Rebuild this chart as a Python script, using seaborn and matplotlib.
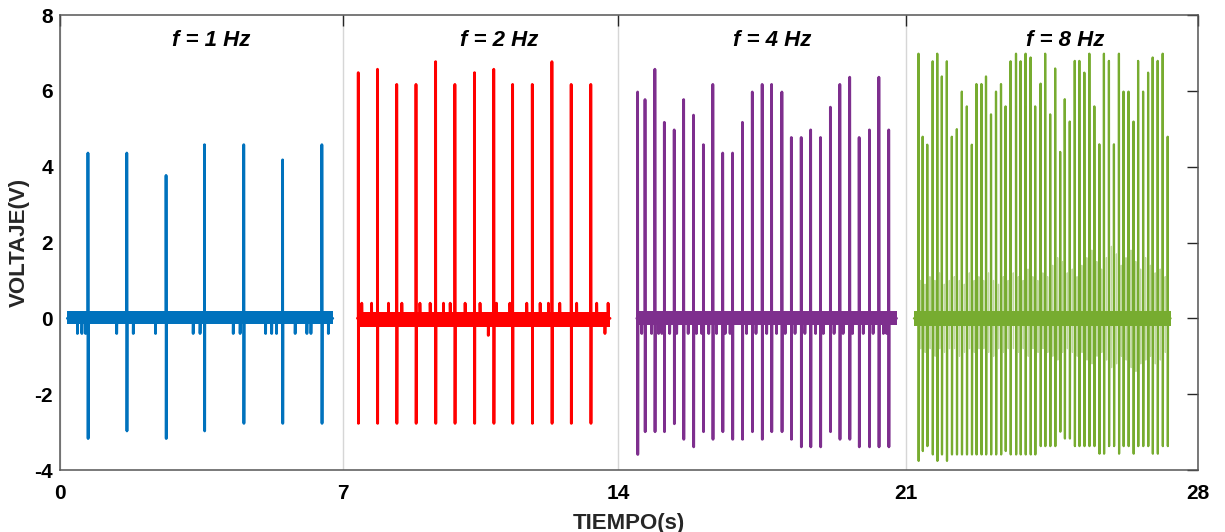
import numpy as np
import pandas as pd
import matplotlib
matplotlib.use("Agg")
import matplotlib.pyplot as plt
import seaborn as sns

# ---------------- data ----------------
segments = ["f = 1 Hz", "f = 2 Hz", "f = 4 Hz", "f = 8 Hz"]
colors = ["#0072BD", "#FF0000", "#7E2F8E", "#77AC30"]

band_start = [0.18, 7.36, 14.45, 21.19]
band_end = [6.74, 13.79, 20.77, 27.35]
band_low = [-0.16, -0.22, -0.18, -0.20]
band_high = [0.20, 0.18, 0.20, 0.20]

blue_t = [0.69, 1.65, 2.62, 3.57, 4.54, 5.50, 6.47]
blue_hi = [4.36, 4.36, 3.77, 4.58, 4.58, 4.18, 4.58]
blue_lo = [-3.17, -2.97, -3.17, -2.97, -2.77, -2.77, -2.77]
blue_minor_t = [0.43, 0.54, 0.63, 1.40, 1.81, 2.36, 3.29, 3.46, 4.28, 4.45,
                5.08, 5.23, 5.35, 5.81, 6.10, 6.20, 6.63]
blue_minor_v = [-0.40] * 17

red_t = [7.38, 7.87, 8.36, 8.85, 9.35, 9.84, 10.34, 10.83, 11.31, 11.81,
         12.31, 12.80, 13.30]
red_hi = [6.48, 6.57, 6.17, 6.17, 6.77, 6.17, 6.48, 6.57, 6.17, 6.17,
          6.77, 6.17, 6.17]
red_lo = [-2.77] * 13
red_minor_t = [7.47, 7.72, 8.15, 8.49, 8.95, 9.21, 9.55, 9.72, 10.10, 10.48,
               10.69, 10.90, 11.24, 11.67, 12.01, 12.22, 12.51, 12.94, 13.45,
               13.66, 13.74]
red_minor_v = [0.40, 0.40, 0.40, 0.40, 0.40, 0.40, 0.40, 0.40, 0.40, 0.40,
               -0.45, 0.40, 0.40, 0.40, 0.40, 0.40, 0.40, 0.40, 0.40,
               -0.40, 0.40]

purple_t = [14.47, 14.65, 14.89, 15.12, 15.36, 15.59, 15.83, 16.07, 16.30,
            16.54, 16.78, 17.02, 17.26, 17.50, 17.73, 17.98, 18.21, 18.45,
            18.68, 18.92, 19.16, 19.39, 19.63, 19.86, 20.11, 20.34, 20.58]
purple_hi = [5.97, 5.77, 6.57, 5.17, 4.97, 5.77, 5.36, 4.58, 6.17, 4.36,
             4.36, 5.17, 5.97, 6.17, 6.17, 5.97, 4.77, 4.77, 4.97, 4.77,
             5.57, 6.17, 6.36, 4.77, 4.97, 6.36, 4.97]
purple_lo = [-3.59, -2.99, -2.99, -2.99, -2.78, -3.19, -3.39, -2.99, -3.19,
             -2.99, -3.19, -3.19, -2.99, -3.19, -2.99, -2.99, -3.19, -3.39,
             -3.39, -3.39, -2.99, -3.19, -3.19, -3.39, -3.39, -3.39, -3.39]
purple_minor_t = [14.57, 14.81, 14.98, 15.06, 15.25, 15.42, 15.70, 15.90,
                  16.03, 16.20, 16.39, 16.60, 16.72, 17.12, 17.35, 17.61,
                  17.85, 18.06, 18.30, 18.54, 18.80, 18.99, 19.25, 19.47,
                  19.70, 19.96, 20.20, 20.45, 20.53]
purple_minor_v = [-0.40] * 29

green_t = [21.30, 21.40, 21.51, 21.64, 21.75, 21.86, 21.98, 22.10, 22.22,
           22.34, 22.46, 22.58, 22.69, 22.81, 22.92, 23.04, 23.16, 23.28,
           23.39, 23.51, 23.64, 23.75, 23.87, 23.99, 24.10, 24.23, 24.34,
           24.46, 24.58, 24.70, 24.81, 24.93, 25.05, 25.16, 25.28, 25.40,
           25.52, 25.64, 25.75, 25.87, 25.99, 26.11, 26.22, 26.34, 26.46,
           26.57, 26.69, 26.81, 26.92, 27.04, 27.16, 27.28]
green_hi = [6.98, 4.79, 4.58, 6.78, 6.98, 6.38, 6.78, 4.79, 4.99, 5.98,
            5.59, 4.58, 6.18, 6.18, 6.38, 5.38, 5.98, 6.18, 5.59, 6.78,
            6.98, 6.78, 6.98, 6.88, 5.59, 6.19, 6.98, 5.38, 6.59, 4.39,
            5.78, 5.19, 6.79, 6.79, 6.48, 6.98, 5.59, 4.59, 6.98, 6.79,
            4.59, 6.98, 5.98, 5.98, 5.19, 6.79, 5.98, 6.48, 6.88, 6.79,
            6.98, 4.79]
green_lo = [-3.76, -3.50, -3.37, -3.59, -3.76, -3.59, -3.76, -3.59, -3.59,
            -3.59, -3.59, -3.59, -3.59, -3.59, -3.59, -3.59, -3.59, -3.59,
            -3.50, -3.59, -3.59, -3.59, -3.59, -3.59, -3.59, -3.37, -3.37,
            -3.37, -3.37, -2.99, -3.17, -3.17, -3.37, -3.37, -3.37, -3.37,
            -3.37, -3.57, -3.57, -3.37, -3.37, -3.57, -3.37, -3.37, -3.57,
            -3.37, -3.37, -3.37, -3.57, -3.57, -3.37, -3.37]
green_minor_t = []
green_minor_v = []
# faint ringing between the 8 Hz pulses (one per gap)
green_ring_hi = [1.0, 0.9, 1.1, 1.0, 1.2, 0.9, 1.0, 1.1, 1.0, 0.9, 1.2, 1.0,
                 1.1, 1.0, 1.2, 1.0, 0.9, 1.1, 1.0, 1.2, 1.1, 1.0, 1.3, 1.1,
                 1.0, 1.2, 1.1, 1.4, 1.6, 1.5, 1.2, 1.3, 1.1, 1.4, 1.6, 1.8,
                 1.5, 1.3, 1.6, 1.9, 1.7, 1.4, 1.6, 1.8, 1.5, 1.3, 1.6, 1.4,
                 1.2, 1.3, 1.1]
green_ring_lo = [-0.8, -0.9, -0.8, -1.0, -0.8, -0.9, -0.8, -0.8, -1.0, -0.9,
                 -0.8, -0.9, -0.8, -0.8, -0.9, -1.0, -0.8, -0.9, -0.8, -0.8,
                 -0.9, -0.8, -1.0, -0.8, -0.9, -0.8, -0.9, -1.0, -1.1, -0.9,
                 -0.8, -0.9, -1.0, -0.9, -1.1, -1.2, -1.0, -0.9, -1.1, -1.3,
                 -1.2, -1.0, -1.1, -1.3, -1.4, -1.2, -1.1, -1.0, -1.2, -1.1,
                 -0.9]

x_ticks = [0, 7, 14, 21, 28]
y_ticks = [-4, -2, 0, 2, 4, 6, 8]

spikes = [(blue_t, blue_hi, blue_lo, blue_minor_t, blue_minor_v),
          (red_t, red_hi, red_lo, red_minor_t, red_minor_v),
          (purple_t, purple_hi, purple_lo, purple_minor_t, purple_minor_v),
          (green_t, green_hi, green_lo, green_minor_t, green_minor_v)]

# ---------------- build signal tables ----------------
D = 0.004  # width of one sample step (rendering)
rows = []
for k, (st, sh, sl, mt, mv) in enumerate(spikes):
    ev = [(t, 0, h, l) for t, h, l in zip(st, sh, sl)] + \
         [(t, 1, v, 0.0) for t, v in zip(mt, mv)]
    ev.sort()
    pts = [(band_start[k], 0.0)]
    for t, kind, a, b in ev:
        if kind == 0:
            pts += [(t, 0.0), (t, a), (t + D, b), (t + 2 * D, 0.0)]
        else:
            pts += [(t, 0.0), (t, a), (t + D, 0.0)]
    pts.append((band_end[k], 0.0))
    for i, (x, y) in enumerate(pts):
        rows.append((segments[k], i, x, y))
df = pd.DataFrame(rows, columns=["seg", "order", "t", "v"])

ring_rows = []
for i in range(len(green_t) - 1):
    tm = 0.5 * (green_t[i] + green_t[i + 1])
    for dx, y in [(0, 0.0), (0, green_ring_hi[i]), (D, green_ring_lo[i]), (2 * D, 0.0)]:
        ring_rows.append((len(ring_rows), tm + dx, y))
ring_df = pd.DataFrame(ring_rows, columns=["order", "t", "v"])

# ---------------- plot ----------------
sns.set_theme(style="white")
plt.rcParams["font.family"] = ["Liberation Sans", "DejaVu Sans"]
plt.rcParams["font.weight"] = "bold"
plt.rcParams["axes.labelweight"] = "bold"

fig = plt.figure(figsize=(12.25, 5.32), dpi=100)
ax = fig.add_axes([0.049, 0.1165, 0.9287, 0.8553])

# the four 7-s panels of the original are not equally wide: reproduce that
# with a piecewise-linear x scale
panel_edges = [0.0, 283.3, 558.3, 846.0, 1137.7]


def fwd(x):
    return np.interp(x, x_ticks, panel_edges)


def inv(p):
    return np.interp(p, panel_edges, x_ticks)


ax.set_xscale("function", functions=(fwd, inv))

for k, seg in enumerate(segments):
    ax.fill_between([band_start[k], band_end[k]], band_low[k], band_high[k],
                    color=colors[k], lw=0, zorder=2)

sns.lineplot(data=ring_df, x="t", y="v", sort=False, estimator=None,
             color=colors[3], lw=0.9, alpha=0.45, ax=ax, zorder=2)

for k, seg in enumerate(segments):
    sub = df[df["seg"] == seg]
    sns.lineplot(data=sub, x="t", y="v", sort=False, estimator=None,
                 color=colors[k], lw=1.6 if k == 3 else 2.0, ax=ax, zorder=3)

title_x = [3.73, 10.96, 17.75, 24.82]
for k, seg in enumerate(segments):
    ax.text(title_x[k], 7.33, seg, ha="center", va="center", fontsize=16,
            fontweight="bold", style="italic", color="black")

ax.set_xlim(0, 28)
ax.set_ylim(-4, 8)
ax.set_xticks(x_ticks)
ax.set_yticks(y_ticks)
ax.set_xticklabels([str(v) for v in x_ticks], fontweight="bold")
ax.set_yticklabels([str(v) for v in y_ticks], fontweight="bold")
ax.minorticks_off()
ax.tick_params(axis="both", direction="in", length=8, width=1.0,
               colors="#262626", labelcolor="black", labelsize=15,
               top=True, right=True)
ax.tick_params(axis="x", pad=10)
ax.tick_params(axis="y", pad=5)
ax.xaxis.grid(True, color="#d6d6d6", lw=1.0)
ax.yaxis.grid(False)
ax.set_axisbelow(True)
for s in ax.spines.values():
    s.set_color("#555555")
    s.set_linewidth(1.1)

ax.set_xlabel("TIEMPO(s)", fontsize=16, fontweight="bold", labelpad=7)
ax.set_ylabel("VOLTAJE(V)", fontsize=16, fontweight="bold", labelpad=3)

fig.savefig("out.png", dpi=100)
